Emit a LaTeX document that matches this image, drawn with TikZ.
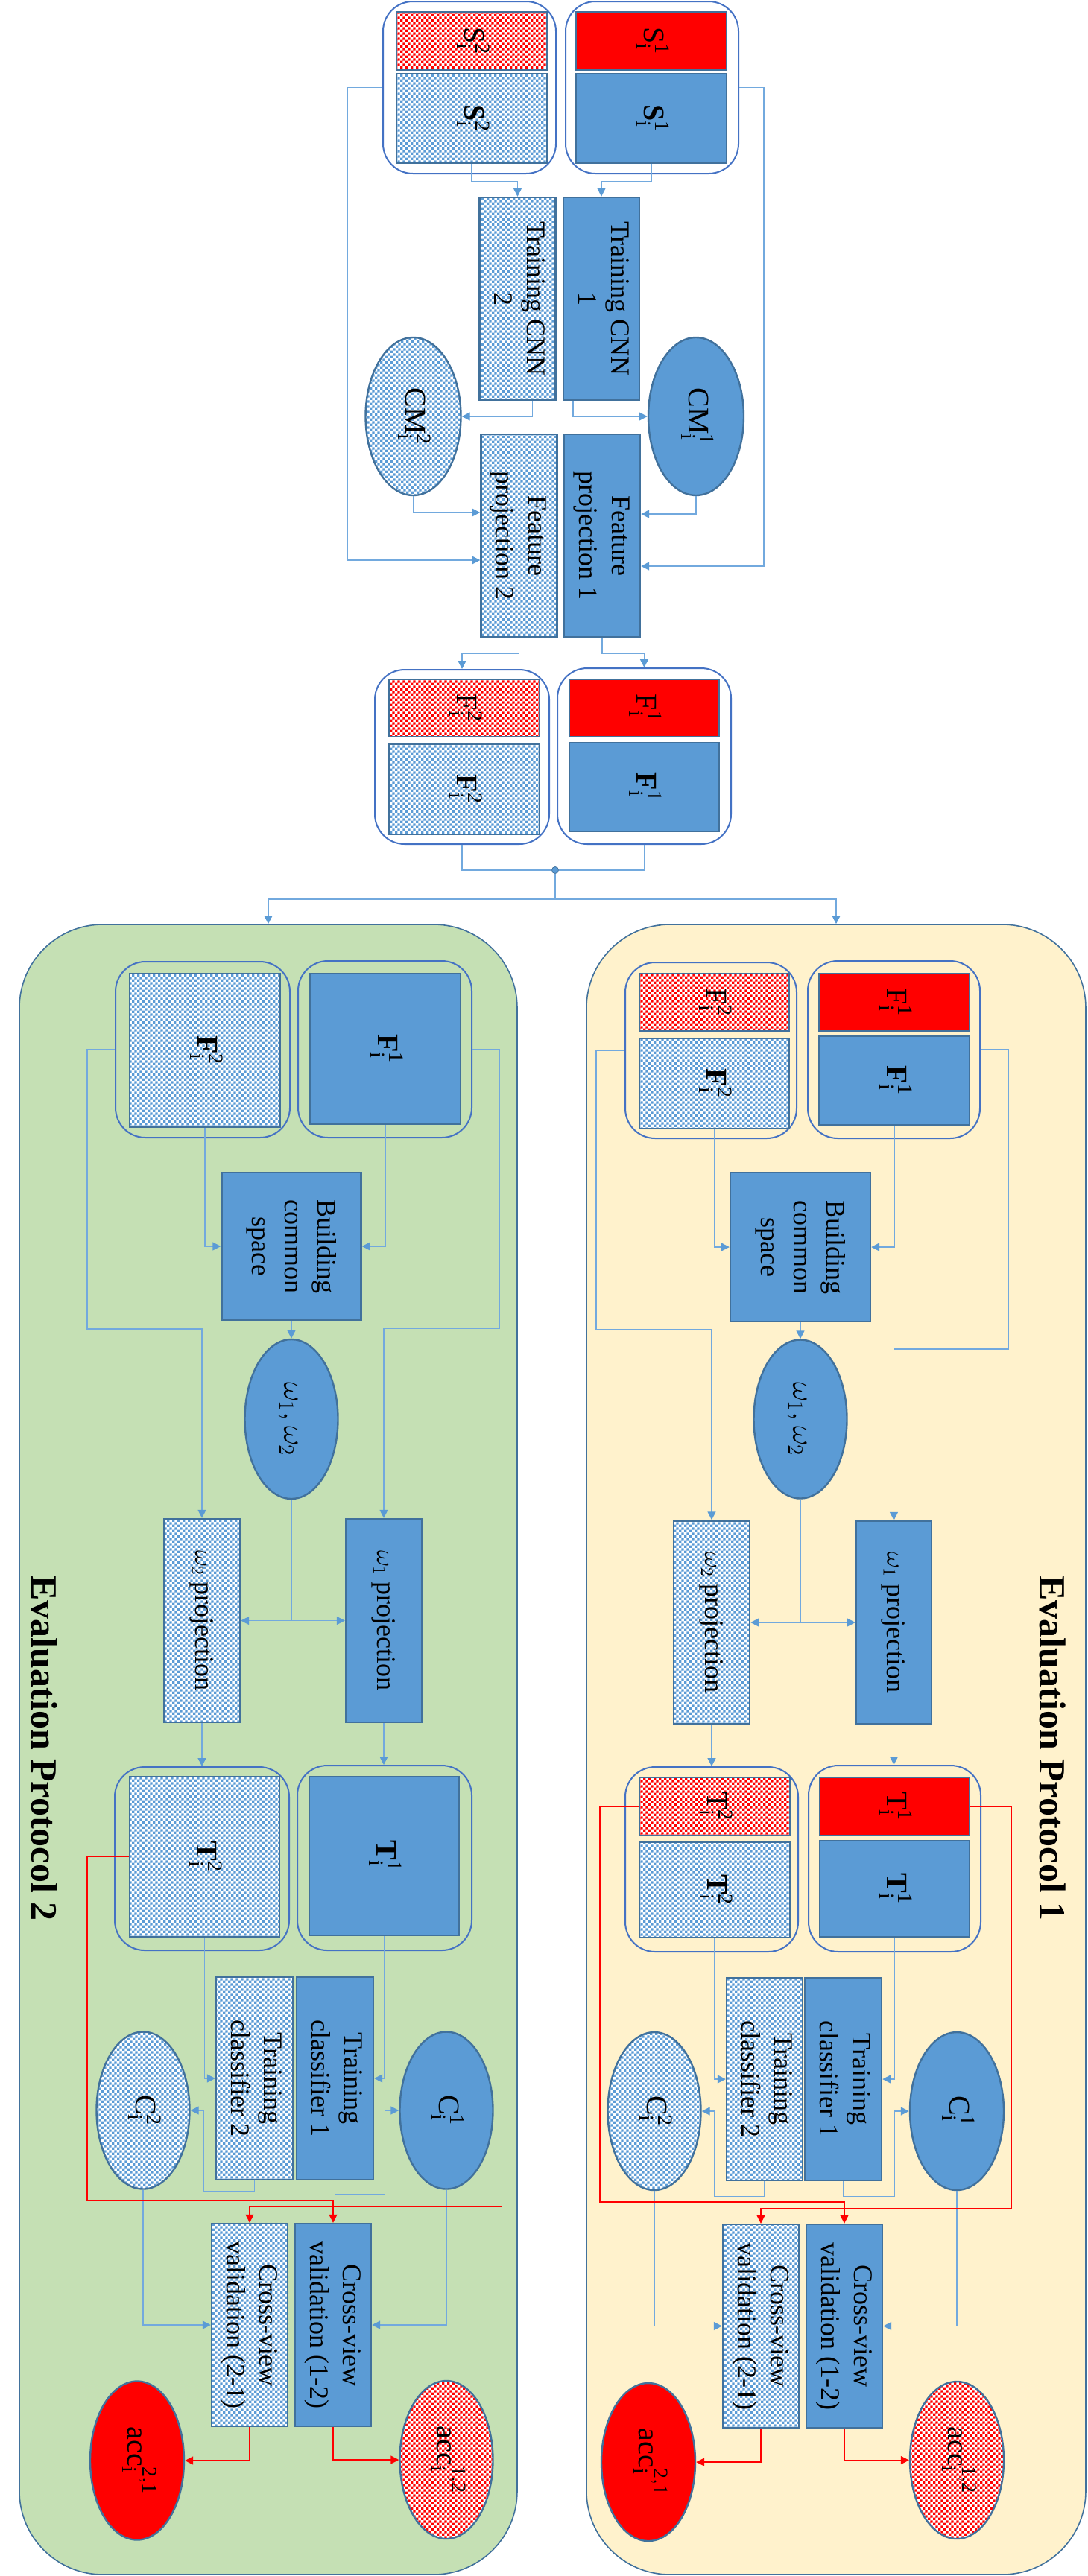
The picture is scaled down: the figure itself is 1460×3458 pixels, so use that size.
\documentclass[tikz,border=0pt]{standalone}
\usepackage{fontspec}
\setmainfont{Liberation Serif}
\usepackage{tikz}
\usetikzlibrary{arrows.meta}
\usetikzlibrary{shapes.geometric}
\usetikzlibrary{patterns}
\definecolor{blu}{HTML}{5B9BD5}
\definecolor{edge}{HTML}{41719C}
\definecolor{grpc}{HTML}{4472C4}
\definecolor{lnc}{HTML}{72A9DE}
\definecolor{grn}{HTML}{C5E0B4}
\definecolor{ylw}{HTML}{FFF2CC}
\pgfdeclarepatternformonly{fine checker}{\pgfqpoint{0pt}{0pt}}{\pgfqpoint{3.4pt}{3.4pt}}{\pgfqpoint{3.4pt}{3.4pt}}{\pgfpathrectangle{\pgfqpoint{0pt}{0pt}}{\pgfqpoint{1.7pt}{1.7pt}}\pgfpathrectangle{\pgfqpoint{1.7pt}{1.7pt}}{\pgfqpoint{1.7pt}{1.7pt}}\pgfusepath{fill}}
\newcommand{\vtxt}[1]{\rotatebox{-90}{\begin{tabular}{@{}c@{}}#1\end{tabular}}}
\newcommand{\idx}[3]{#1$^{\mathrm{#2}}_{\mathrm{#3}}$}
\tikzset{shp/.style = {draw=edge, line width=1.2pt, inner sep=0pt, font=\fontsize{18}{22}\selectfont}}
\tikzset{box/.style = {shp, fill=blu}}
\tikzset{chk/.style = {shp, preaction={fill=white}, pattern=fine checker, pattern color=blu}}
\tikzset{rbox/.style = {shp, fill=red}}
\tikzset{rchk/.style = {shp, preaction={fill=white}, pattern=fine checker, pattern color=red}}
\tikzset{lab/.style = {font=\fontsize{20}{24}\selectfont}}
\tikzset{grp/.style = {draw=grpc, line width=1pt, rounded corners=20pt, inner sep=0pt}}
\tikzset{panel/.style = {draw=edge, line width=0.8pt, rounded corners=56pt, inner sep=0pt}}
\tikzset{ttl/.style = {font=\fontsize{25}{30}\selectfont\bfseries}}
\tikzset{wire/.style = {draw=lnc, line width=0.7pt}}
\tikzset{conn/.style = {wire, -{Triangle[width=5.5pt,length=5.5pt,color=blu]}}}
\tikzset{rconn/.style = {draw=red, line width=0.7pt, -{Triangle[width=5.5pt,length=5.5pt]}}}

\begin{document}
\begin{tikzpicture}[x=0.5pt, y=-0.5pt]
    \useasboundingbox (0,0) rectangle (1460,3458);
    % panels
    \node[panel, fill=grn, minimum width=334pt, minimum height=1107.5pt] (pan2) at (360,2348.5) {};
    \node[panel, fill=ylw, minimum width=335pt, minimum height=1107.5pt] (pan1) at (1122,2348.5) {};
    \node[ttl] (ttl2) at (60,2347) {\rotatebox{-90}{Evaluation Protocol 2}};
    \node[ttl] (ttl1) at (1413,2347) {\rotatebox{-90}{Evaluation Protocol 1}};

    % training part
    \node[grp, minimum width=116pt, minimum height=115.5pt] (gs1) at (875,117.5) {};
    \node[grp, minimum width=116pt, minimum height=115.5pt] (gs2) at (630,117.5) {};
    \node[rbox, lab, minimum width=101pt, minimum height=39pt] (s1r) at (874,55) {\vtxt{\idx{S}{1}{i}}};
    \node[box, lab, minimum width=101pt, minimum height=60pt] (s1b) at (874,159) {\vtxt{\idx{\textbf{S}}{1}{i}}};
    \node[rchk, lab, minimum width=101pt, minimum height=39pt] (s2r) at (633,55) {\vtxt{\idx{S}{2}{i}}};
    \node[chk, lab, minimum width=101pt, minimum height=60pt] (s2b) at (633,159) {\vtxt{\idx{\textbf{S}}{2}{i}}};
    \node[box, minimum width=51pt, minimum height=136pt] (tcnn1) at (807,401) {\vtxt{Training CNN\\1}};
    \node[chk, minimum width=51pt, minimum height=136pt] (tcnn2) at (694.5,401) {\vtxt{Training CNN\\2}};
    \node[box, lab, ellipse, minimum width=64pt, minimum height=106pt] (cm1) at (934,559) {\vtxt{\idx{CM}{1}{i}}};
    \node[chk, lab, ellipse, minimum width=64pt, minimum height=106pt] (cm2) at (554.5,559) {\vtxt{\idx{CM}{2}{i}}};
    \node[box, minimum width=51pt, minimum height=136pt] (fp1) at (808,719) {\vtxt{Feature\\projection 1}};
    \node[chk, minimum width=51pt, minimum height=136pt] (fp2) at (696.5,719) {\vtxt{Feature\\projection 2}};
    \node[grp, minimum width=116.5pt, minimum height=118pt] (gf1) at (864.5,1015) {};
    \node[grp, minimum width=117pt, minimum height=117pt] (gf2) at (620,1016) {};
    \node[rbox, lab, minimum width=100.5pt, minimum height=38.5pt] (f1r) at (864.5,950.5) {\vtxt{\idx{F}{1}{i}}};
    \node[box, lab, minimum width=100.5pt, minimum height=59.5pt] (f1b) at (864.5,1056.5) {\vtxt{\idx{\textbf{F}}{1}{i}}};
    \node[rchk, lab, minimum width=101pt, minimum height=38.5pt] (f2r) at (623,950.5) {\vtxt{\idx{F}{2}{i}}};
    \node[chk, lab, minimum width=101pt, minimum height=60.5pt] (f2b) at (623,1059.5) {\vtxt{\idx{\textbf{F}}{2}{i}}};
    \node[circle, draw=edge, fill=blu, inner sep=0pt, minimum size=4.5pt] (dot) at (745,1168) {};
    \coordinate (split) at (745,1207);

    \draw[conn] (s1b.south) -- ++(0,23) -| (tcnn1.north);
    \draw[conn] (s2b.south) -- ++(0,23) -| (tcnn2.north);
    \draw[conn] ([xshift=-19pt]tcnn1.south) |- (cm1.west);
    \draw[conn] ([xshift=10pt]tcnn2.south) |- (cm2.east);
    \draw[conn] (cm1.south) |- ([yshift=14.5pt]fp1.east);
    \draw[conn] (cm2.south) |- ([yshift=15.5pt]fp2.west);
    \draw[conn] (gs1.east) -- ++(33,0) |- ([yshift=-20.5pt]fp1.east);
    \draw[conn] (gs2.west) -- ++(-47,0) |- ([yshift=-16.5pt]fp2.west);
    \draw[conn] (fp1.south) -- ++(0,21) -| (gf1.north);
    \draw[conn] (fp2.south) -- ++(0,21) -| (gf2.north);
    \draw[wire] (gf1.south) |- (dot.east);
    \draw[wire] (gf2.south) |- (dot.west);
    \draw[wire] (dot.south) -- (split);
    \draw[conn] (split) -| (pan2.north);
    \draw[conn] (split) -| (pan1.north);

    % protocol 2
    \node[grp, minimum width=117pt, minimum height=118pt] (p2gf2) at (272,1409) {};
    \node[grp, minimum width=116.5pt, minimum height=118.5pt] (p2gf1) at (516.5,1408.5) {};
    \node[chk, lab, minimum width=101pt, minimum height=103pt] (p2f2) at (275,1410) {\vtxt{\idx{\textbf{F}}{2}{i}}};
    \node[box, lab, minimum width=101pt, minimum height=101pt] (p2f1) at (517,1408) {\vtxt{\idx{\textbf{F}}{1}{i}}};
    \node[box, minimum width=93.5pt, minimum height=99pt] (p2bcs) at (391,1673) {\vtxt{Building\\common\\space}};
    \node[box, lab, ellipse, minimum width=62.5pt, minimum height=107pt] (p2om) at (391,1905) {\vtxt{$\omega_1,\omega_2$}};
    \node[chk, minimum width=51pt, minimum height=136.5pt] (p2w2) at (271,2175.5) {\vtxt{$\omega_2$ projection}};
    \node[box, minimum width=51pt, minimum height=136.5pt] (p2w1) at (515,2175.5) {\vtxt{$\omega_1$ projection}};
    \node[grp, minimum width=117pt, minimum height=123pt] (p2gt2) at (271,2495) {};
    \node[grp, minimum width=117pt, minimum height=124pt] (p2gt1) at (516,2494) {};
    \node[chk, lab, minimum width=100.5pt, minimum height=107.5pt] (p2t2) at (274.5,2492.5) {\vtxt{\idx{\textbf{T}}{2}{i}}};
    \node[box, lab, minimum width=100.5pt, minimum height=106.5pt] (p2t1) at (515.5,2491.5) {\vtxt{\idx{\textbf{T}}{1}{i}}};
    \node[box, minimum width=51.5pt, minimum height=136pt] (p2tc1) at (449.5,2790) {\vtxt{Training\\classifier 1}};
    \node[chk, minimum width=51.5pt, minimum height=136pt] (p2tc2) at (341.5,2790) {\vtxt{Training\\classifier 2}};
    \node[box, lab, ellipse, minimum width=62.5pt, minimum height=105.5pt] (p2c1) at (599,2833) {\vtxt{\idx{C}{1}{i}}};
    \node[chk, lab, ellipse, minimum width=62.5pt, minimum height=105.5pt] (p2c2) at (192,2833) {\vtxt{\idx{C}{2}{i}}};
    \node[box, minimum width=51pt, minimum height=136pt] (p2cv1) at (447,3121) {\vtxt{Cross-view\\validation (1-2)}};
    \node[chk, minimum width=51pt, minimum height=136pt] (p2cv2) at (335,3121) {\vtxt{Cross-view\\validation (2-1)}};
    \node[rbox, lab, ellipse, minimum width=63pt, minimum height=106.5pt] (p2acc21) at (184,3303) {\vtxt{\idx{acc}{2,1}{i}}};
    \node[rchk, lab, ellipse, minimum width=62.5pt, minimum height=106pt] (p2acc12) at (599,3302) {\vtxt{\idx{acc}{1,2}{i}}};

    \draw[conn] (p2f2.south) |- (p2bcs.west);
    \draw[conn] (p2f1.south) |- (p2bcs.east);
    \draw[conn] (p2gf2.west) -- ++(-37,0) -- ++(0,375) -| (p2w2.north);
    \draw[conn] (p2gf1.east) -- ++(36,0) -- ++(0,375) -| (p2w1.north);
    \draw[conn] (p2bcs.south) -- (p2om.north);
    \draw[conn] (p2om.south) |- (p2w2.east);
    \draw[conn] (p2om.south) |- (p2w1.west);
    \draw[conn] (p2w2.south) -- (p2gt2.north);
    \draw[conn] (p2w1.south) -- (p2gt1.north -| p2w1.south);
    \draw[conn] (p2t2.south) |- (p2tc2.west);
    \draw[conn] (p2t1.south) |- (p2tc1.east);
    \draw[conn] (p2tc1.south) -- ++(0,18) -- ++(67,0) |- (p2c1.west);
    \draw[conn] (p2tc2.south) -- ++(0,14) -- ++(-68,0) |- (p2c2.east);
    \draw[conn] (p2c2.south) |- (p2cv2.west);
    \draw[conn] (p2c1.south) |- (p2cv1.east);
    \draw[rconn] (p2t2.west) -- ++(-56,0) -- ++(0,461) -| (p2cv1.north);
    \draw[rconn] (p2t1.east) -- ++(56,0) -- ++(0,470) -| (p2cv2.north);
    \draw[rconn] (p2cv2.south) |- (p2acc21.east);
    \draw[rconn] (p2cv1.south) |- (p2acc12.west);

    % protocol 1
    \node[grp, minimum width=115pt, minimum height=118pt] (p1gf2) at (954,1410) {};
    \node[grp, minimum width=115.5pt, minimum height=119pt] (p1gf1) at (1199.5,1409) {};
    \node[rchk, lab, minimum width=100.5pt, minimum height=38.5pt] (p1f2r) at (958.5,1345.5) {\vtxt{\idx{F}{2}{i}}};
    \node[chk, lab, minimum width=100.5pt, minimum height=60.5pt] (p1f2b) at (958.5,1454.5) {\vtxt{\idx{\textbf{F}}{2}{i}}};
    \node[rbox, lab, minimum width=101pt, minimum height=38.5pt] (p1f1r) at (1200,1345.5) {\vtxt{\idx{F}{1}{i}}};
    \node[box, lab, minimum width=101pt, minimum height=59.5pt] (p1f1b) at (1200,1450.5) {\vtxt{\idx{\textbf{F}}{1}{i}}};
    \node[box, minimum width=94pt, minimum height=100pt] (p1bcs) at (1074,1674) {\vtxt{Building\\common\\space}};
    \node[box, lab, ellipse, minimum width=62.5pt, minimum height=106.5pt] (p1om) at (1074,1905) {\vtxt{$\omega_1,\omega_2$}};
    \node[chk, minimum width=51pt, minimum height=136.5pt] (p1w2) at (955,2178) {\vtxt{$\omega_2$ projection}};
    \node[box, minimum width=50.5pt, minimum height=136pt] (p1w1) at (1199.5,2178) {\vtxt{$\omega_1$ projection}};
    \node[grp, minimum width=116pt, minimum height=124pt] (p1gt2) at (955,2496) {};
    \node[grp, minimum width=115.5pt, minimum height=125pt] (p1gt1) at (1200.5,2495) {};
    \node[rchk, lab, minimum width=101pt, minimum height=39pt] (p1t2r) at (959,2425) {\vtxt{\idx{T}{2}{i}}};
    \node[chk, lab, minimum width=101pt, minimum height=64pt] (p1t2b) at (959,2537) {\vtxt{\idx{\textbf{T}}{2}{i}}};
    \node[rbox, lab, minimum width=100.5pt, minimum height=39pt] (p1t1r) at (1200.5,2425) {\vtxt{\idx{T}{1}{i}}};
    \node[box, lab, minimum width=100.5pt, minimum height=64.5pt] (p1t1b) at (1200.5,2535.5) {\vtxt{\idx{\textbf{T}}{1}{i}}};
    \node[chk, minimum width=51pt, minimum height=136pt] (p1tc2) at (1026,2791) {\vtxt{Training\\classifier 2}};
    \node[box, minimum width=51.5pt, minimum height=136pt] (p1tc1) at (1131.5,2791) {\vtxt{Training\\classifier 1}};
    \node[chk, lab, ellipse, minimum width=62.5pt, minimum height=106pt] (p1c2) at (878,2834) {\vtxt{\idx{C}{2}{i}}};
    \node[box, lab, ellipse, minimum width=63pt, minimum height=106pt] (p1c1) at (1284,2834) {\vtxt{\idx{C}{1}{i}}};
    \node[chk, minimum width=51pt, minimum height=136.5pt] (p1cv2) at (1021,3122.5) {\vtxt{Cross-view\\validation (2-1)}};
    \node[box, minimum width=51pt, minimum height=136.5pt] (p1cv1) at (1133,3122.5) {\vtxt{Cross-view\\validation (1-2)}};
    \node[rbox, lab, ellipse, minimum width=63pt, minimum height=106pt] (p1acc21) at (870,3305) {\vtxt{\idx{acc}{2,1}{i}}};
    \node[rchk, lab, ellipse, minimum width=63pt, minimum height=105.5pt] (p1acc12) at (1284,3302.5) {\vtxt{\idx{acc}{1,2}{i}}};

    \draw[conn] (p1f2b.south) |- (p1bcs.west);
    \draw[conn] (p1f1b.south) |- (p1bcs.east);
    \draw[conn] (p1gf2.west) -- ++(-38,0) -- ++(0,375) -| (p1w2.north);
    \draw[conn] (p1gf1.east) -- ++(37,0) -- ++(0,402) -| (p1w1.north);
    \draw[conn] (p1bcs.south) -- (p1om.north);
    \draw[conn] (p1om.south) |- (p1w2.east);
    \draw[conn] (p1om.south) |- (p1w1.west);
    \draw[conn] (p1w2.south) -- (p1gt2.north);
    \draw[conn] (p1w1.south) -- (p1gt1.north -| p1w1.south);
    \draw[conn] (p1t2b.south) |- (p1tc2.west);
    \draw[conn] (p1t1b.south) |- (p1tc1.east);
    \draw[conn] (p1tc1.south) -- ++(0,20) -- ++(69,0) |- (p1c1.west);
    \draw[conn] (p1tc2.south) -- ++(0,20) -- ++(-67,0) |- (p1c2.east);
    \draw[conn] (p1c2.south) |- (p1cv2.west);
    \draw[conn] (p1c1.south) |- (p1cv1.east);
    \draw[rconn] (p1t2r.west) -- ++(-52,0) -- ++(0,531) -| (p1cv1.north);
    \draw[rconn] (p1t1r.east) -- ++(55,0) -- ++(0,540) -| (p1cv2.north);
    \draw[rconn] (p1cv2.south) |- (p1acc21.east);
    \draw[rconn] (p1cv1.south) |- (p1acc12.west);
\end{tikzpicture}
\end{document}
